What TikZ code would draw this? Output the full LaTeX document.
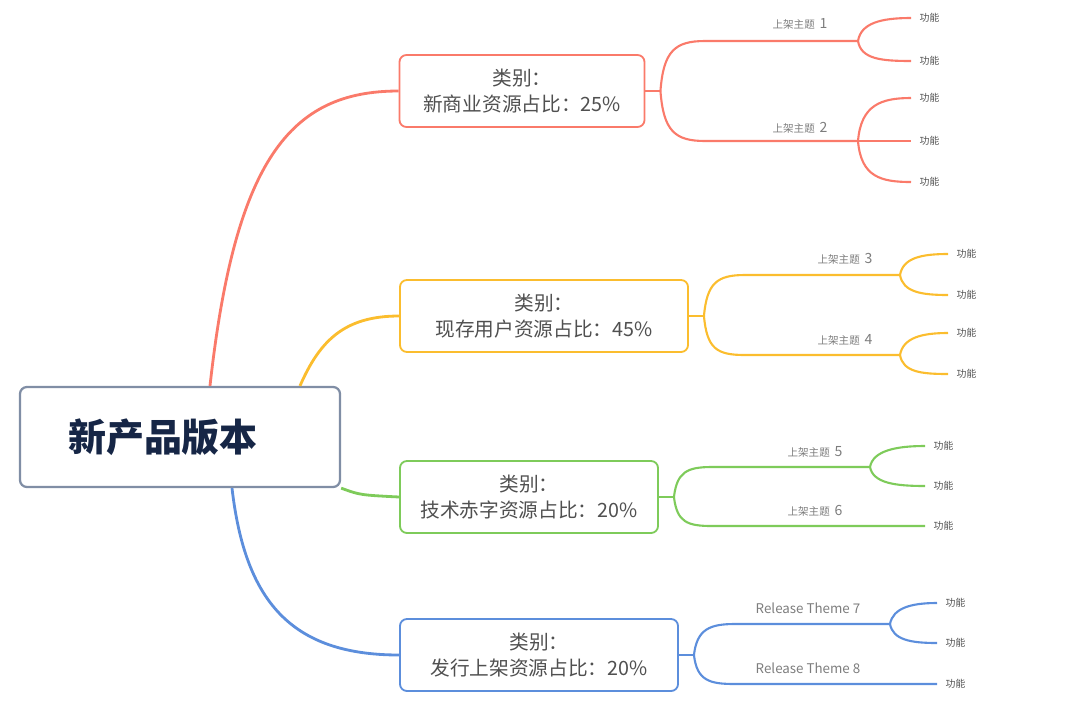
\documentclass[tikz,border=0pt]{standalone}
\usepackage{fontspec}
\newfontfamily\cjk{Noto Sans CJK SC}
\usetikzlibrary{positioning}
\definecolor{rojo}{RGB}{250,122,106}
\definecolor{naranja}{RGB}{251,189,46}
\definecolor{verde}{RGB}{126,203,90}
\definecolor{azul}{RGB}{92,142,220}
\definecolor{raizgris}{RGB}{128,142,165}
\definecolor{marino}{RGB}{22,38,70}
\definecolor{textogris}{RGB}{80,80,80}
\definecolor{temagris}{RGB}{125,125,125}

\begin{document}
\begin{tikzpicture}[
    x=0.025cm, y=-0.025cm,
    raiz/.style={draw=raizgris, line width=1.6pt, rounded corners=5pt, fill=white, minimum width=8cm, minimum height=2.5cm, text=marino, font=\cjk\fontsize{27}{30}\selectfont\bfseries},
    cat/.style={draw=#1, line width=1.3pt, rounded corners=5pt, fill=white, minimum height=1.8cm, align=center, text=textogris, font=\cjk\fontsize{14}{19}\selectfont},
    rama/.style={draw=#1, line width=2pt},
    brote/.style={draw=#1, line width=1.5pt},
    tema/.style={inner sep=1pt, text=temagris, font=\cjk\fontsize{7.5}{9}\selectfont},
    hoja/.style={anchor=west, inner xsep=6pt, inner ysep=1pt, text=textogris, font=\cjk\fontsize{7}{8}\selectfont}
]
\useasboundingbox (0,0) rectangle (1080,706);

% Nodo central
\node[raiz] (raiz) at (180,437) {新产品版本\hspace*{0.85cm}};

% Categorias
\node[cat=rojo, minimum width=6.125cm] (c1) at (522,91) {类别：\\新商业资源占比：25\%};
\node[cat=naranja, minimum width=7.2cm] (c2) at (544,316) {类别：\\现存用户资源占比：45\%};
\node[cat=verde, minimum width=6.45cm] (c3) at (529,497) {类别：\\技术赤字资源占比：20\%};
\node[cat=azul, minimum width=6.95cm] (c4) at (539,655) {类别：\\发行上架资源占比：20\%};

% Ramas principales
\draw[rama=rojo] (raiz.north -| 210,0) .. controls (235,160) and (290,91) .. (c1.west);
\draw[rama=naranja] (raiz.north -| 300,0) .. controls (320,340) and (345,316) .. (c2.west);
\draw[rama=verde] (raiz.south east) .. controls (360,495) .. (c3.west);
\draw[rama=azul] (raiz.south -| 232,0) .. controls (245,600) and (290,655) .. (c4.west);

% Hojas
\node[hoja] (h1a) at (911,18) {功能};
\node[hoja] (h1b) at (911,61) {功能};
\node[hoja] (h2a) at (911,98) {功能};
\node[hoja] (h2b) at (911,141) {功能};
\node[hoja] (h2c) at (911,182) {功能};
\node[hoja] (h3a) at (948,254) {功能};
\node[hoja] (h3b) at (948,295) {功能};
\node[hoja] (h4a) at (948,333) {功能};
\node[hoja] (h4b) at (948,374) {功能};
\node[hoja] (h5a) at (925,446) {功能};
\node[hoja] (h5b) at (925,486) {功能};
\node[hoja] (h6a) at (925,526) {功能};
\node[hoja] (h7a) at (937,603) {功能};
\node[hoja] (h7b) at (937,643) {功能};
\node[hoja] (h8a) at (937,684) {功能};

% Temas
\node[tema] (t1) at (800,24) {上架主题\ \ {\fontsize{10}{10}\selectfont 1}};
\node[tema] (t2) at (800,128) {上架主题\ \ {\fontsize{10}{10}\selectfont 2}};
\node[tema] (t3) at (845,259) {上架主题\ \ {\fontsize{10}{10}\selectfont 3}};
\node[tema] (t4) at (845,340) {上架主题\ \ {\fontsize{10}{10}\selectfont 4}};
\node[tema] (t5) at (815,452) {上架主题\ \ {\fontsize{10}{10}\selectfont 5}};
\node[tema] (t6) at (815,511) {上架主题\ \ {\fontsize{10}{10}\selectfont 6}};
\node[tema, font=\cjk\fontsize{9.5}{11}\selectfont] (t7) at (808,608) {Release Theme 7};
\node[tema, font=\cjk\fontsize{9.5}{11}\selectfont] (t8) at (808,668) {Release Theme 8};

% Subsistema rojo
\coordinate (j1) at (858,41);
\coordinate (j2) at (858,141);
\draw[brote=rojo] (c1.east) -- ++(15,0) coordinate (s1);
\draw[brote=rojo] (s1) .. controls +(3,-40) and +(-30,0) .. (705,41) -- (j1);
\draw[brote=rojo] (s1) .. controls +(3,40) and +(-30,0) .. (705,141) -- (j2);
\draw[brote=rojo] (j1) .. controls +(3,-18) and +(-30,0) .. (h1a.west);
\draw[brote=rojo] (j1) .. controls +(3,18) and +(-30,0) .. (h1b.west);
\draw[brote=rojo] (j2) .. controls +(3,-36) and +(-30,0) .. (h2a.west);
\draw[brote=rojo] (j2) -- (h2b.west);
\draw[brote=rojo] (j2) .. controls +(3,36) and +(-30,0) .. (h2c.west);

% Subsistema naranja
\coordinate (j3) at (900,275);
\coordinate (j4) at (900,355);
\draw[brote=naranja] (c2.east) -- ++(15,0) coordinate (s2);
\draw[brote=naranja] (s2) .. controls +(3,-33) and +(-28,0) .. (745,275) -- (j3);
\draw[brote=naranja] (s2) .. controls +(3,33) and +(-28,0) .. (745,355) -- (j4);
\draw[brote=naranja] (j3) .. controls +(3,-17) and +(-27,0) .. (h3a.west);
\draw[brote=naranja] (j3) .. controls +(3,17) and +(-27,0) .. (h3b.west);
\draw[brote=naranja] (j4) .. controls +(3,-17) and +(-27,0) .. (h4a.west);
\draw[brote=naranja] (j4) .. controls +(3,17) and +(-27,0) .. (h4b.west);

% Subsistema verde
\coordinate (j5) at (870,467);
\draw[brote=verde] (c3.east) -- ++(15,0) coordinate (s3);
\draw[brote=verde] (s3) .. controls +(3,-25) and +(-25,0) .. (712,467) -- (j5);
\draw[brote=verde] (s3) .. controls +(3,25) and +(-25,0) .. (712,526) -- (h6a.west);
\draw[brote=verde] (j5) .. controls +(3,-16) and +(-30,0) .. (h5a.west);
\draw[brote=verde] (j5) .. controls +(3,16) and +(-30,0) .. (h5b.west);

% Subsistema azul
\coordinate (j7) at (890,624);
\draw[brote=azul] (c4.east) -- ++(15,0) coordinate (s4);
\draw[brote=azul] (s4) .. controls +(3,-26) and +(-25,0) .. (735,624) -- (j7);
\draw[brote=azul] (s4) .. controls +(3,26) and +(-25,0) .. (735,684) -- (h8a.west);
\draw[brote=azul] (j7) .. controls +(3,-16) and +(-26,0) .. (h7a.west);
\draw[brote=azul] (j7) .. controls +(3,16) and +(-26,0) .. (h7b.west);

\end{tikzpicture}
\end{document}
